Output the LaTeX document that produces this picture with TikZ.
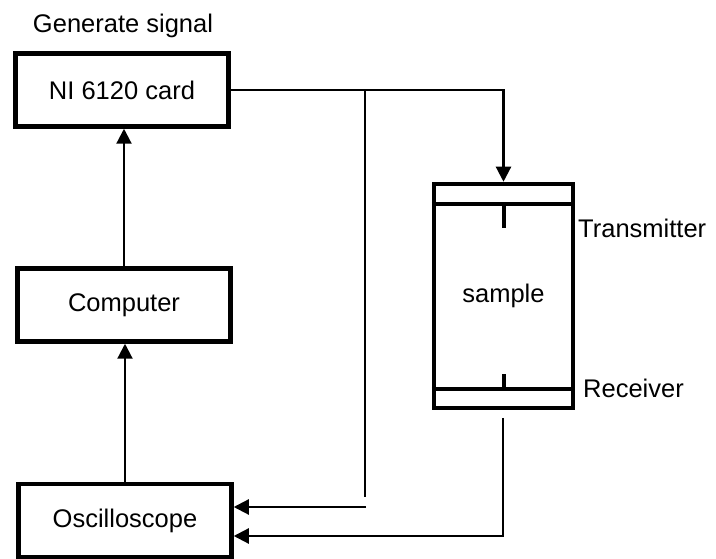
\documentclass[tikz,border=0pt]{standalone}
\usepackage{fontspec}
\setmainfont{Liberation Sans}
\usetikzlibrary{arrows.meta,positioning,calc}

\begin{document}
\begin{tikzpicture}[x=1pt,y=1pt,
  b/.style={draw,line width=4.5pt,minimum width=213pt,minimum height=73pt,inner sep=0pt,
    font=\fontsize{25.5}{30}\selectfont},
  ar/.style={-{Triangle[length=15pt,width=15pt]},line width=2.2pt},
  ln/.style={line width=2.2pt},
  lab/.style={font=\fontsize{25.5}{30}\selectfont,inner sep=0pt}]
\useasboundingbox (0,0) rectangle (716,559);
\node[b] (ni) at (122,469) {NI 6120 card};
\node[b] (comp) at (124,254) {Computer};
\node[b] (osc) at (125,38.5) {Oscilloscope};
\node[lab] (gen) at (123,533) {Generate signal};
\node[b,minimum width=139pt,minimum height=224pt] (sample) at (503.5,263) {sample};
% transducer plates
\draw[line width=4pt] ($(sample.north west)+(0,-22)$) coordinate (tx) -- ($(sample.north east)+(0,-22)$);
\draw[line width=4pt] ($(sample.south west)+(0,21)$) coordinate (rx) -- ($(sample.south east)+(0,21)$);
\draw[line width=4pt] (tx -| sample.north) -- ++(0,-24);
\draw[line width=4pt] (rx -| sample.south) -- ++(0,15);
\node[lab,anchor=west] (tr) at (578,331) {Transmitter};
\node[lab,anchor=west] (re) at (583,171) {Receiver};
% signal paths
\draw[ar] (comp.north) -- (comp.north |- ni.south);
\draw[ar] (osc.north) -- (osc.north |- comp.south);
\draw[ar] (ni.east) -| (sample.north);
\coordinate (br) at (365,469);
\coordinate (b1) at (365,62);
\coordinate (b2) at (366,52);
\draw[ln] (br) -- (b1);
\draw[ar] (b2) -- (b2 -| osc.east);
\coordinate (r1) at (503,141);
\coordinate (r2) at (503,23);
\draw[ar] (r1) |- (osc.east |- r2);
\end{tikzpicture}
\end{document}
